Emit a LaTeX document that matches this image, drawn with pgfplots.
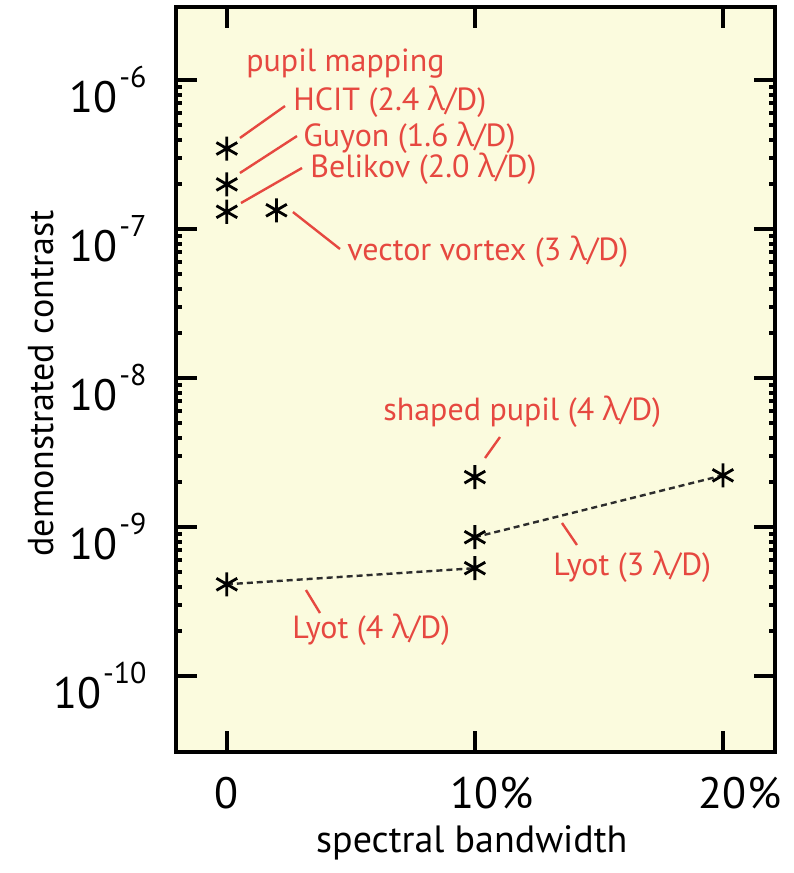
\documentclass[border=0pt]{standalone}
\usepackage{fontspec}
\setmainfont{PT Sans}
\newfontfamily\gr{Open Sans}
\usepackage{pgfplots}
\pgfplotsset{compat=1.18}
\definecolor{bg}{RGB}{251,251,222}
\definecolor{ann}{RGB}{230,72,64}
\definecolor{dline}{RGB}{45,45,45}
\newcommand\lam{{\gr λ}}
\newcommand\tsup[1]{\kern1pt\raisebox{12.5pt}{\fontsize{15}{16}\selectfont #1}}
\begin{document}
\begin{tikzpicture}
\begin{axis}[
  scale only axis,
  width=299.5pt, height=372.5pt,
  xmin=-2.05, xmax=22.1,
  ymode=log, ymin=3.1e-11, ymax=3.1e-6,
  axis background/.style={fill=bg},
  axis line style={line width=2.2pt},
  tick style={line width=2pt, black},
  major tick length=10.5pt,
  minor tick num=0,
  ytick={1e-10,1e-9,1e-8,1e-7,1e-6},
  yticklabels={10\tsup{-10},10\tsup{-9},10\tsup{-8},10\tsup{-7},10\tsup{-6}},
  xtick={0,10,20},
  xticklabels={0,10\rlap{\kern0.5pt\%},20\rlap{\kern0.5pt\%}},
  tick label style={font=\fontsize{22}{25}\selectfont, inner sep=0pt},
  xticklabel style={anchor=base, yshift=-28pt},
  yticklabel style={anchor=base east, xshift=-14.5pt, yshift=-16pt},
  xlabel={spectral bandwidth},
  ylabel={demonstrated contrast},
  label style={inner sep=0pt},
  xlabel style={font=\fontsize{19}{22}\selectfont, at={(rel axis cs:0.494,0)}, anchor=base, yshift=-50pt},
  ylabel style={font=\fontsize{18}{21}\selectfont, at={(rel axis cs:-0.2037,0.495)}, anchor=base},
  clip=false,
]
\addplot[dline, line width=1.2pt, dash pattern=on 3pt off 2pt, mark=asterisk, mark size=6pt,
  mark options={solid, black, line width=1.4pt}] coordinates {(0,4.14e-10) (10,5.31e-10)};
\addplot[dline, line width=1.2pt, dash pattern=on 3pt off 2pt, mark=asterisk, mark size=6pt,
  mark options={solid, black, line width=1.4pt}] coordinates {(10,8.57e-10) (20,2.23e-9)};
\addplot[only marks, mark=asterisk, mark size=6pt, mark options={black, line width=1.4pt}]
  coordinates {(0,3.48e-7) (0,2.0e-7) (0,1.31e-7) (2,1.34e-7) (10,2.17e-9)};
\begin{scope}[ann, line width=1.2pt]
\draw (rel axis cs:0.1068,0.8242) -- (rel axis cs:0.1820,0.8671);
\draw (rel axis cs:0.1068,0.7772) -- (rel axis cs:0.2020,0.8268);
\draw (rel axis cs:0.1085,0.7369) -- (rel axis cs:0.2104,0.7839);
\draw (rel axis cs:0.1953,0.7248) -- (rel axis cs:0.2738,0.6752);
\draw (rel axis cs:0.5159,0.3946) -- (rel axis cs:0.5409,0.4228);
\draw (rel axis cs:0.6444,0.3074) -- (rel axis cs:0.6694,0.2779);
\draw (rel axis cs:0.2170,0.2174) -- (rel axis cs:0.2404,0.1866);
\end{scope}
\begin{scope}[every node/.style={ann, anchor=base west, inner sep=0pt, font=\fontsize{16}{18}\selectfont}]
\node at (rel axis cs:0.1169,0.9128) {pupil mapping};
\node at (rel axis cs:0.1953,0.8617) {HCIT (2.4 \lam/D)};
\node at (rel axis cs:0.2120,0.8121) {Guyon (1.6 \lam/D)};
\node at (rel axis cs:0.2237,0.7718) {Belikov (2.0 \lam/D)};
\node at (rel axis cs:0.2855,0.6604) {vector vortex (3 \lam/D)};
\node at (rel axis cs:0.3456,0.4456) {shaped pupil (4 \lam/D)};
\node at (rel axis cs:0.6294,0.2376) {Lyot (3 \lam/D)};
\node at (rel axis cs:0.1937,0.1530) {Lyot (4 \lam/D)};
\end{scope}
\coordinate (bbsw) at (rel axis cs:-0.2938,-0.1624);
\coordinate (bbne) at (rel axis cs:1.0301,1.0094);
\end{axis}
\pgfresetboundingbox
\path[use as bounding box] (bbsw) rectangle (bbne);
\end{tikzpicture}
\end{document}
